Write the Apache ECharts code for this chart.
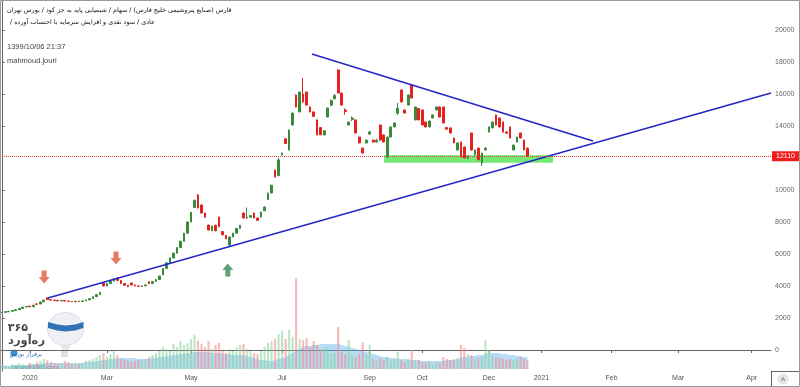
<!DOCTYPE html>
<html><head><meta charset="utf-8">
<script src="https://cdn.jsdelivr.net/npm/echarts@6/dist/echarts.min.js"></script>
<style>html,body{margin:0;padding:0;background:#fff}#c{width:800px;height:387px}</style>
</head><body><div id="c"></div>
<script>
// ---- DATA ----
// candles: [open, close, low, high], one per trading bar
const candles = [
[2340,2360,2330,2370],[2360,2390,2350,2400],[2390,2420,2380,2430],[2420,2470,2410,2480],[2470,2520,2460,2530],
[2520,2600,2510,2610],[2600,2680,2590,2690],[2690,2720,2670,2740],[2740,2700,2690,2760],[2700,2800,2690,2810],
[2880,2860,2840,2900],[2880,3000,2870,3010],[3010,3120,3000,3140],[3260,3150,3130,3280],[3150,3120,3100,3170],
[3120,3100,3080,3140],[3100,3070,3050,3120],[3070,3100,3050,3120],[3100,3060,3040,3110],[3060,3030,3010,3080],
[3030,3010,2990,3050],[3010,3050,3000,3070],[3050,3030,3010,3070],[3030,3070,3020,3090],[3070,3130,3060,3150],
[3130,3210,3120,3230],[3210,3330,3200,3350],[3330,3460,3320,3480],[3460,3600,3450,3620],[4180,4000,3980,4200],
[4000,4150,3990,4170],[4150,4300,4140,4330],[4300,4450,4290,4480],[4500,4350,4330,4560],[4350,4150,4130,4370],
[4150,4050,4020,4170],[4050,3960,3940,4070],[4190,4060,4040,4210],[4060,4000,3980,4080],[4000,3980,3960,4020],
[3980,4010,3970,4030],[4010,4070,4000,4090],[4260,4150,4130,4280],[4150,4280,4140,4300],[4280,4400,4270,4420],
[4400,4620,4390,4640],[4700,5100,4690,5120],[5100,5450,5090,5470],[5450,5750,5440,5780],[5750,6050,5740,6080],
[6050,6400,6040,6420],[6400,6800,6390,6820],[6800,7300,6790,7320],[7300,8000,7290,8030],[8000,8600,7990,8630],
[8900,9350,8880,9400],[9690,8880,8850,9750],[9060,8560,8540,9100],[8560,8300,8280,8580],[7810,7500,7480,7830],
[7450,7750,7430,7770],[7800,7450,7430,7820],[8300,7700,7680,8330],[7400,7200,7180,7420],[7150,6950,6930,7170],
[6560,7060,6500,7080],[7060,7300,7050,7320],[7300,7600,7290,7620],[7600,7800,7590,7820],[8560,8250,8230,8600],
[8250,8300,8200,8900],[8300,8400,8280,8420],[8560,8250,8230,8580],[8250,8100,8080,8270],[8310,8620,8300,8640],
[8700,8940,8690,8960],[9400,9810,9390,9830],[9810,10300,9800,10320],[11250,10810,10790,11270],[10900,11880,10890,12000],
[12200,12300,12150,12350],[13200,12900,12880,13250],[12500,13750,12480,13780],[14060,14810,14040,14830],[15940,15190,15170,15960],
[14880,16120,14860,16150],[16000,15500,15480,17000],[16120,15310,15290,16150],[15190,14880,14860,15210],[14880,14600,14580,14900],
[14380,13440,13420,14400],[13900,13450,13430,13920],[13440,13700,13420,13720],[14560,15120,14540,15140],[15300,15600,15280,15650],
[15700,15900,15680,16000],[17500,16060,16040,17550],[16060,15310,15290,16080],[15000,14900,14700,15100],[14060,14250,14040,14270],
[14400,14500,14300,14600],[14380,13560,13540,14400],[13310,12940,12920,13330],[12620,12310,12290,12640],[12940,13120,12920,13140],
[13500,13620,13450,13700],[13120,13000,12980,13140],[13000,13100,12980,13200],[14060,13120,13100,14080],[13440,13000,12980,13460],
[12060,13310,12000,13330],[13310,13940,13290,13960],[13940,14190,13920,14210],[14800,15100,14700,15440],[16250,15500,15480,16270],
[15000,14810,14790,15020],[15310,15940,15290,15960],[16560,15750,15730,16580],[14380,15190,14360,15210],[15100,14380,14360,15120],
[15000,14060,14040,15020],[14250,13940,13920,14270],[13940,14310,13920,14330],[14500,14690,14480,14710],[15000,15190,14980,15210],
[15190,14560,14540,15210],[15190,14190,14170,15210],[13900,13800,13780,13920],[13880,13560,13540,13900],[13250,12940,12920,13270],
[12500,12940,12480,12960],[13000,12060,12040,13020],[12690,12000,11980,12710],[11980,12130,11960,12150],[13560,12500,12480,13580],
[12190,12500,12170,12520],[12620,11880,11860,12640],[11690,12310,11500,12330],[12500,12600,12480,12700],[13620,13940,13600,13960],
[13880,14250,13860,14270],[14690,14060,14040,14710],[14500,13940,13920,14520],[14250,13620,13600,14270],[13620,13550,13500,13700],
[13940,13250,13230,13960],[12500,12810,12480,12830],[13000,13310,12980,13330],[13560,13250,13230,13580],[13120,12500,12480,13140],
[12620,12110,12090,12640]
];
const volumes = [
3,4,3,5,4,6,5,4,6,5,7,8,10,
9,7,6,5,6,8,7,5,6,5,6,8,9,10,12,
14,16,12,15,18,14,10,9,8,7,8,9,8,10,12,14,16,18,
22,20,18,25,22,28,24,26,30,34,28,25,
22,28,20,24,26,18,16,20,18,22,24,
25,20,18,16,15,18,22,26,28,30,35,38,
30,39,32,91,30,29,31,22,28,24,19,20,22,15,16,42,17,15,29,14,
12,15,27,14,24,10,8,11,9,12,8,10,17,9,7,10,19,8,9,7,
6,8,5,7,6,12,10,9,10,11,24,21,15,14,10,11,12,29,19,14,
12,11,10,9,10,9,11,12,10,9
];
const volumeAvg = [
3,3,3,4,4,4,4,4,5,5,5,5,6,6,6,6,6,6,6,6,6,6,6,6,7,7,7,8,8,9,
9,10,10,11,11,11,11,11,11,10,10,10,10,11,11,12,
12,13,13,14,14,15,15,16,16,17,17,17,17,17,16,16,16,15,15,15,14,14,14,
14,13,12,11,10,9,9,8,8,9,10,11,
12,14,16,18,20,22,23,23,24,24,25,25,25,25,25,25,24,23,22,21,
20,19,18,17,16,15,14,13,12,12,11,11,10,10,10,9,9,9,9,8,
8,8,8,8,8,8,9,9,9,10,11,12,12,13,13,14,14,15,16,16,16,16,15,15,14,14,13,13,12,12
];
const barCount = 220;               // bars shown on the time axis (incl. future space)
const tickIndex = [8, 30, 54, 80, 105, 120, 139, 154, 174, 193, 214];
const tickText  = ['2020','Mar','May','Jul','Sep','Oct','Dec','2021','Feb','Mar','Apr'];
const priceTicks = [0,2000,4000,6000,8000,10000,14000,16000,18000,20000];
const lastPrice = 12110;
const supportLine = [[13.2, 3250], [219.5, 16060]];
const resistanceLine = [[88.5, 18500], [168.7, 13060]];
const supportZone = [[109.1, 12170], [157.3, 11700]];
const arrowsDown = [[12.1, 4560], [32.6, 5750]];
const arrowsUp = [[64.5, 5000]];
const titleLine1 = 'فارس (صنایع پتروشیمی خلیج فارس) / سهام / شیمیایی پایه به جز کود / بورس تهران';
const titleLine2 = 'عادی / سود نقدی و افزایش سرمایه با احتساب آورده /';
const stamp = '1399/10/06 21:37';
const author = 'mahmoud.jouri';

// ---- CHART ----
const cats = [];
for (let i = 0; i < barCount; i++) cats.push('b' + i);
const labelMap = {};
tickIndex.forEach((ix, k) => { labelMap[ix] = tickText[k]; });
const UP = '#3a8a3c', DOWN = '#e3231f';
const volData = volumes.map((v, i) => ({
  value: v,
  itemStyle: { color: candles[i][1] >= candles[i][0] ? 'rgba(130,210,150,0.55)' : 'rgba(240,140,140,0.6)' }
}));
const RTL = s => '\u202B' + s + '\u202C';

const chart = echarts.init(document.getElementById('c'), null, { renderer: 'canvas' });
chart.setOption({
  animation: false,
  backgroundColor: '#fff',
  grid: [
    { left: 0, right: 29, top: 0, bottom: 16 },
    { left: 0, right: 29, bottom: 18, height: 100 }
  ],
  xAxis: [
    { type: 'category', gridIndex: 0, data: cats, boundaryGap: true,
      axisLine: { lineStyle: { color: '#666' } },
      axisTick: { show: true, length: 3, alignWithLabel: true, interval: (i) => labelMap[i] !== undefined, lineStyle: { color: '#666' } },
      axisLabel: { interval: (i) => labelMap[i] !== undefined, formatter: (v, i) => labelMap[i] || '',
        color: '#555', fontSize: 7, margin: 4, fontFamily: 'Liberation Sans' },
      splitLine: { show: false } },
    { type: 'value', gridIndex: 0, min: -0.5, max: barCount - 0.5, show: false },
    { type: 'category', gridIndex: 1, data: cats, boundaryGap: true, show: false }
  ],
  yAxis: [
    { type: 'value', gridIndex: 0, position: 'right', min: -1312.5, max: 21875,
      axisLine: { show: true, lineStyle: { color: '#666' } },
      axisTick: { show: true, length: 3, customValues: priceTicks, lineStyle: { color: '#666' } },
      axisLabel: { customValues: priceTicks, formatter: v => String(v), color: '#666', fontSize: 7, margin: 4, fontFamily: 'Liberation Sans' },
      splitLine: { show: false } },
    { type: 'value', gridIndex: 1, min: 0, max: 100, show: false }
  ],
  series: [
    { type: 'bar', xAxisIndex: 2, yAxisIndex: 1, data: volData, barWidth: '60%', z: 1, silent: true },
    { type: 'line', xAxisIndex: 2, yAxisIndex: 1, data: volumeAvg, smooth: true, symbol: 'none', z: 1,
      lineStyle: { width: 0 }, areaStyle: { color: 'rgba(95,175,235,0.62)' }, silent: true },
    { type: 'candlestick', xAxisIndex: 0, yAxisIndex: 0, data: candles, barWidth: '62%', z: 3,
      itemStyle: { color: UP, color0: DOWN, borderColor: UP, borderColor0: DOWN, borderWidth: 1 },
      markLine: { symbol: 'none', silent: true, animation: false,
        lineStyle: { color: '#e53935', type: 'dotted', width: 1 },
        label: { position: 'end', distance: 1, formatter: String(lastPrice), color: '#fff', backgroundColor: '#f21b1b',
          padding: [2, 4, 1, 4], fontSize: 7, fontFamily: 'Liberation Sans' },
        data: [{ yAxis: lastPrice }] } },
    { type: 'line', xAxisIndex: 1, yAxisIndex: 0, data: supportLine, symbol: 'none', z: 4,
      lineStyle: { color: '#2626c8', width: 1.6 }, silent: true,
      markArea: { silent: true, itemStyle: { color: 'rgba(70,225,70,0.75)' },
        data: [[{ coord: supportZone[0] }, { coord: supportZone[1] }]] } },
    { type: 'line', xAxisIndex: 1, yAxisIndex: 0, data: resistanceLine, symbol: 'none', z: 4,
      lineStyle: { color: '#2626c8', width: 1.6 }, silent: true },
    { type: 'scatter', xAxisIndex: 1, yAxisIndex: 0, data: arrowsDown, z: 5,
      symbol: 'path://M3,0H8V6H11L5.5,12L0,6H3Z', symbolSize: [11, 13], itemStyle: { color: '#e25a40' } },
    { type: 'scatter', xAxisIndex: 1, yAxisIndex: 0, data: arrowsUp, z: 5,
      symbol: 'path://M5.5,0L11,6H8V12H3V6H0Z', symbolSize: [11, 13], itemStyle: { color: '#3c8a55' } }
  ],
  graphic: [
    { type: 'rect', shape: { x: 0.5, y: 0.5, width: 799, height: 386 }, style: { fill: 'none', stroke: '#999', lineWidth: 1 }, z: 100 },
    { type: 'line', shape: { x1: 771.5, y1: 371, x2: 771.5, y2: 387 }, style: { stroke: '#666', lineWidth: 1 } },
    { type: 'line', shape: { x1: 771, y1: 371.5, x2: 800, y2: 371.5 }, style: { stroke: '#666', lineWidth: 1 } },
    { type: 'circle', shape: { cx: 783, cy: 379, r: 5.5 }, style: { fill: '#e6e6e6' } },
    { type: 'text', style: { text: 'A', x: 783, y: 379, align: 'center', verticalAlign: 'middle', font: '6px Liberation Sans', fill: '#666' } },
    { type: 'text', style: { text: RTL(titleLine1), x: 7, y: 10, verticalAlign: 'middle', font: '6.4px DejaVu Sans', fill: '#111' } },
    { type: 'text', style: { text: RTL(titleLine2), x: 10, y: 22, verticalAlign: 'middle', font: '6.4px DejaVu Sans', fill: '#111' } },
    { type: 'text', style: { text: stamp, x: 7, y: 47, verticalAlign: 'middle', font: '7.5px Liberation Sans', fill: '#444' } },
    { type: 'text', style: { text: author, x: 7, y: 61, verticalAlign: 'middle', font: '7.5px Liberation Sans', fill: '#444' } },
    // watermark logo
    { type: 'group', z: 50, children: [
      { type: 'ellipse', shape: { cx: 65.5, cy: 329, rx: 18, ry: 16.5 }, style: { fill: '#eef0f3', stroke: '#d9dde2', lineWidth: 1 } },
      { type: 'polygon', shape: { points: [[48,322],[57,324.5],[66,325.5],[75,324.5],[83.5,322],[83.5,328],[75,330.5],[66,331.5],[57,330.5],[48,328]] }, style: { fill: '#2f72b5' } },
      { type: 'polygon', shape: { points: [[60,344],[71,344],[68,351],[63,351]] }, style: { fill: '#e3e6ea' } },
      { type: 'rect', shape: { x: 61, y: 351, width: 7, height: 6 }, style: { fill: '#dde0e4' } },
      { type: 'text', style: { text: '۳۶۵', x: 28, y: 328, align: 'right', verticalAlign: 'middle', font: 'bold 11px DejaVu Sans', fill: '#4a4a4a' } },
      { type: 'text', style: { text: 'ره‌آورد', x: 45, y: 341, align: 'right', verticalAlign: 'middle', font: 'bold 11.5px DejaVu Sans', fill: '#4a4a4a' } },
      { type: 'circle', shape: { cx: 14, cy: 353, r: 3.5 }, style: { fill: '#3a8fd0' } },
      { type: 'text', style: { text: 'برفراز بورس', x: 42, y: 354, align: 'right', verticalAlign: 'middle', font: '6px DejaVu Sans', fill: '#2f72b5' } },
      { type: 'text', style: { text: 'rahavard365.com', x: 12, y: 367, verticalAlign: 'middle', font: '6px Liberation Sans', fill: '#667' } }
    ] }
  ]
});
</script></body></html>
